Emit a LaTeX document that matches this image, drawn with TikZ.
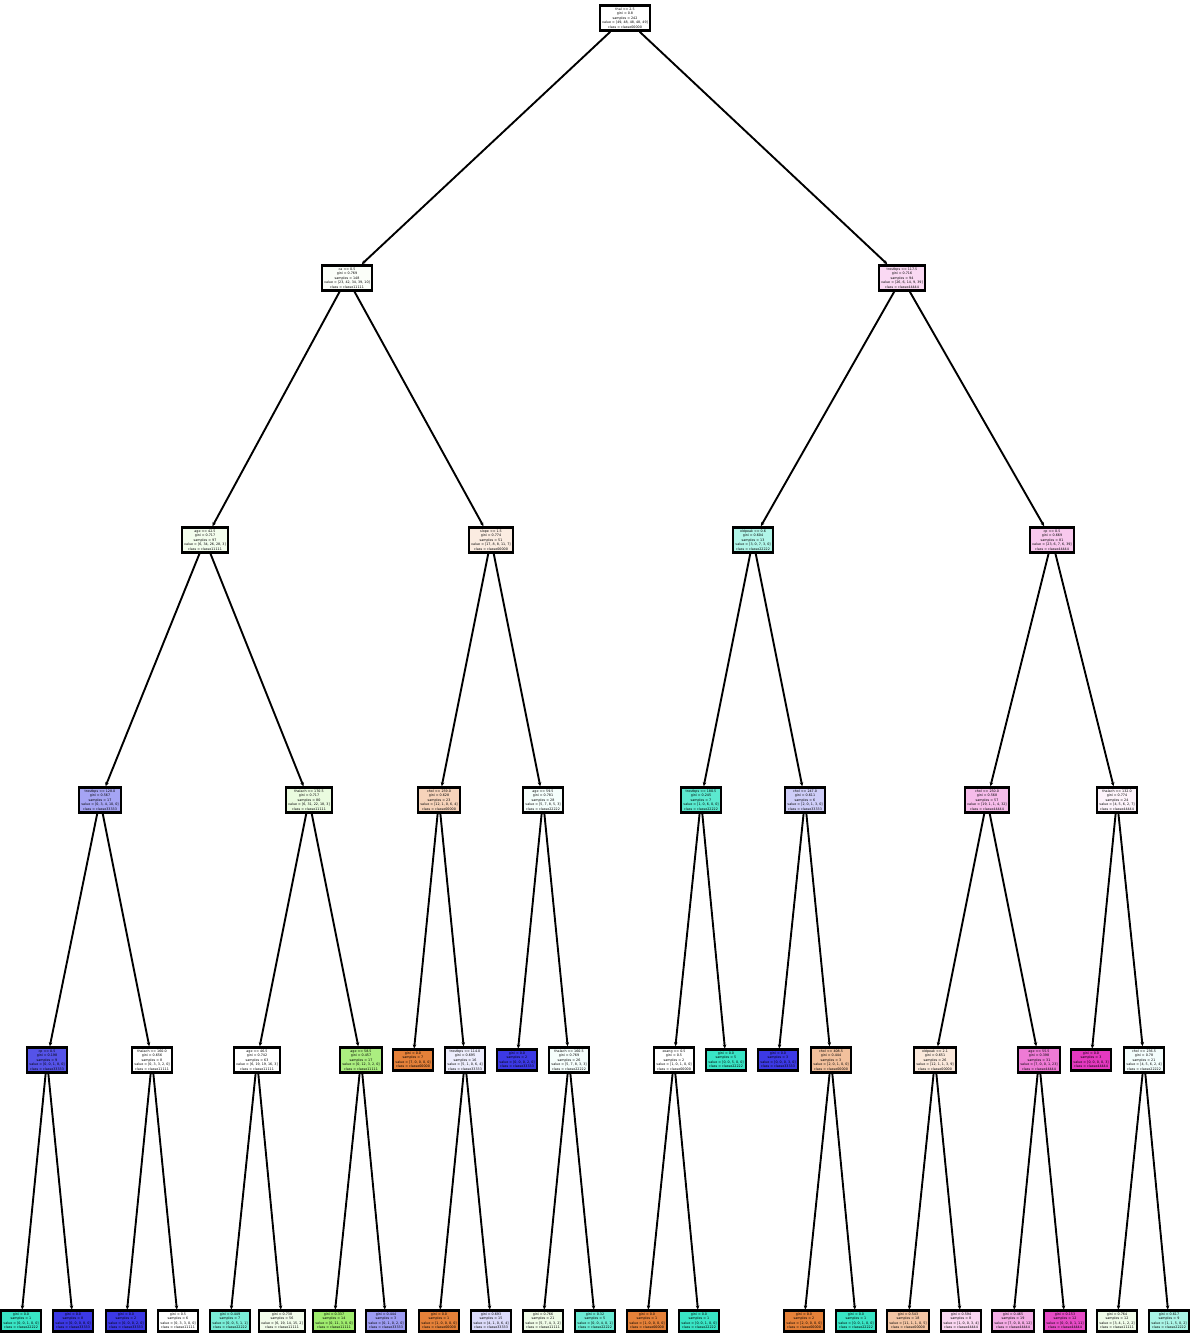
\documentclass[tikz,border=0pt]{standalone}
\usepackage{fontspec}
\setmainfont{DejaVu Sans}
\usetikzlibrary{arrows.meta}
% class colours (orange, green, teal, blue, magenta)
\definecolor{k0}{RGB}{229,129,57}
\definecolor{k1}{RGB}{123,229,57}
\definecolor{k2}{RGB}{57,229,197}
\definecolor{k3}{RGB}{60,57,229}
\definecolor{k4}{RGB}{229,57,192}
\tikzset{
  tnode/.style={draw=black, line width=2.6pt, inner sep=2.2pt, align=center,
                font=\fontsize{3.3}{4.5}\selectfont},
  link/.style={line width=1.9pt, -{Stealth[length=4pt,width=3.6pt]}}
}
\begin{document}
\begin{tikzpicture}[x=1pt,y=-1pt]
\useasboundingbox (0,0) rectangle (1191,1336);
% level 0
\node[tnode, fill=white] (r) at (625,18) {thal <= 2.5\\gini = 0.8\\samples = 242\\value = [49, 48, 48, 48, 49]\\class = classe00000};
% level 1
\node[tnode, fill=k1!3!white] (L) at (347,278) {ca <= 0.5\\gini = 0.769\\samples = 148\\value = [23, 42, 34, 39, 10]\\class = classe11111};
\node[tnode, fill=k4!19!white] (R) at (902,278) {trestbps <= 117.5\\gini = 0.716\\samples = 94\\value = [26, 6, 14, 9, 39]\\class = classe44444};
% level 2
\node[tnode, fill=k1!9!white] (A) at (205,540) {age <= 42.5\\gini = 0.717\\samples = 97\\value = [6, 34, 26, 28, 3]\\class = classe11111};
\node[tnode, fill=k0!15!white] (B) at (491,540) {slope <= 1.5\\gini = 0.774\\samples = 51\\value = [17, 8, 8, 11, 7]\\class = classe00000};
\node[tnode, fill=k2!40!white] (C) at (753,540) {oldpeak <= 0.6\\gini = 0.604\\samples = 13\\value = [3, 0, 7, 3, 0]\\class = classe22222};
\node[tnode, fill=k4!28!white] (D) at (1052,540) {cp <= 0.5\\gini = 0.669\\samples = 81\\value = [23, 6, 7, 6, 39]\\class = classe44444};
% level 3
\node[tnode, fill=k3!46!white] (A1) at (100,800) {trestbps <= 128.0\\gini = 0.567\\samples = 17\\value = [0, 3, 4, 10, 0]\\class = classe33333};
\node[tnode, fill=k1!16!white] (A2) at (309,800) {thalach <= 170.5\\gini = 0.717\\samples = 80\\value = [6, 31, 22, 18, 3]\\class = classe11111};
\node[tnode, fill=k0!35!white] (B1) at (439,800) {chol <= 259.0\\gini = 0.628\\samples = 23\\value = [12, 1, 0, 6, 4]\\class = classe00000};
\node[tnode, fill=k2!5!white] (B2) at (543,800) {age <= 59.5\\gini = 0.781\\samples = 28\\value = [5, 7, 8, 5, 3]\\class = classe22222};
\node[tnode, fill=k2!83!white] (C1) at (701,800) {trestbps <= 180.5\\gini = 0.245\\samples = 7\\value = [1, 0, 6, 0, 0]\\class = classe22222};
\node[tnode, fill=k3!25!white] (C2) at (805,800) {chol <= 247.0\\gini = 0.611\\samples = 6\\value = [2, 0, 1, 3, 0]\\class = classe33333};
\node[tnode, fill=k4!34!white] (D1) at (987,800) {chol <= 250.0\\gini = 0.568\\samples = 57\\value = [19, 1, 1, 4, 32]\\class = classe44444};
\node[tnode, fill=k4!6!white] (D2) at (1117,800) {thalach <= 132.0\\gini = 0.774\\samples = 24\\value = [4, 5, 6, 2, 7]\\class = classe44444};
% level 4
\node[tnode, fill=k3!87!white] (a11) at (47,1060) {cp <= 0.5\\gini = 0.198\\samples = 9\\value = [0, 0, 1, 8, 0]\\class = classe33333};
\node[tnode, fill=white] (a12) at (152,1060) {thalach <= 160.0\\gini = 0.656\\samples = 8\\value = [0, 3, 3, 2, 0]\\class = classe11111};
\node[tnode, fill=white] (a21) at (257,1060) {age <= 46.5\\gini = 0.742\\samples = 63\\value = [6, 19, 19, 16, 3]\\class = classe11111};
\node[tnode, fill=k1!64!white] (a22) at (361,1060) {age <= 58.5\\gini = 0.457\\samples = 17\\value = [0, 12, 3, 2, 0]\\class = classe11111};
\node[tnode, fill=k0] (b11) at (413,1060) {gini = 0.0\\samples = 7\\value = [7, 0, 0, 0, 0]\\class = classe00000};
\node[tnode, fill=k3!9!white] (b12) at (465,1060) {trestbps <= 114.0\\gini = 0.695\\samples = 16\\value = [5, 1, 0, 6, 4]\\class = classe33333};
\node[tnode, fill=k3] (b21) at (517,1060) {gini = 0.0\\samples = 2\\value = [0, 0, 0, 2, 0]\\class = classe33333};
\node[tnode, fill=k2!5!white] (b22) at (569,1060) {thalach <= 160.5\\gini = 0.769\\samples = 26\\value = [5, 7, 8, 3, 3]\\class = classe22222};
\node[tnode, fill=white] (c11) at (674,1060) {exang <= 0.5\\gini = 0.5\\samples = 2\\value = [1, 0, 1, 0, 0]\\class = classe00000};
\node[tnode, fill=k2] (c12) at (726,1060) {gini = 0.0\\samples = 5\\value = [0, 0, 5, 0, 0]\\class = classe22222};
\node[tnode, fill=k3] (c21) at (778,1060) {gini = 0.0\\samples = 3\\value = [0, 0, 0, 3, 0]\\class = classe33333};
\node[tnode, fill=k0!50!white] (c22) at (831,1060) {chol <= 408.5\\gini = 0.444\\samples = 3\\value = [2, 0, 1, 0, 0]\\class = classe00000};
\node[tnode, fill=k0!18!white] (d11) at (935,1060) {oldpeak <= 2.1\\gini = 0.651\\samples = 26\\value = [12, 1, 1, 3, 9]\\class = classe00000};
\node[tnode, fill=k4!67!white] (d12) at (1039,1060) {age <= 55.5\\gini = 0.398\\samples = 31\\value = [7, 0, 0, 1, 23]\\class = classe44444};
\node[tnode, fill=k4] (d21) at (1091,1060) {gini = 0.0\\samples = 3\\value = [0, 0, 0, 0, 3]\\class = classe44444};
\node[tnode, fill=k2!6!white] (d22) at (1144,1060) {chol <= 236.5\\gini = 0.78\\samples = 21\\value = [4, 5, 6, 2, 4]\\class = classe22222};
% level 5 (leaves)
\node[tnode, fill=k2] (a111) at (21,1321) {gini = 0.0\\samples = 1\\value = [0, 0, 1, 0, 0]\\class = classe22222};
\node[tnode, fill=k3] (a112) at (73,1321) {gini = 0.0\\samples = 8\\value = [0, 0, 0, 8, 0]\\class = classe33333};
\node[tnode, fill=k3] (a121) at (126,1321) {gini = 0.0\\samples = 2\\value = [0, 0, 0, 2, 0]\\class = classe33333};
\node[tnode, fill=white] (a122) at (178,1321) {gini = 0.5\\samples = 6\\value = [0, 3, 3, 0, 0]\\class = classe11111};
\node[tnode, fill=k2!67!white] (a211) at (230,1321) {gini = 0.449\\samples = 7\\value = [0, 0, 5, 1, 1]\\class = classe22222};
\node[tnode, fill=k1!10!white] (a212) at (282,1321) {gini = 0.738\\samples = 56\\value = [6, 19, 14, 15, 2]\\class = classe11111};
\node[tnode, fill=k1!73!white] (a221) at (334,1321) {gini = 0.337\\samples = 14\\value = [0, 11, 3, 0, 0]\\class = classe11111};
\node[tnode, fill=k3!50!white] (a222) at (386,1321) {gini = 0.444\\samples = 3\\value = [0, 1, 0, 2, 0]\\class = classe33333};
\node[tnode, fill=k0] (b121) at (439,1321) {gini = 0.0\\samples = 1\\value = [1, 0, 0, 0, 0]\\class = classe00000};
\node[tnode, fill=k3!18!white] (b122) at (491,1321) {gini = 0.693\\samples = 15\\value = [4, 1, 0, 6, 4]\\class = classe33333};
\node[tnode, fill=k1!12!white] (b221) at (543,1321) {gini = 0.766\\samples = 21\\value = [5, 7, 4, 3, 2]\\class = classe11111};
\node[tnode, fill=k2!75!white] (b222) at (595,1321) {gini = 0.32\\samples = 5\\value = [0, 0, 4, 0, 1]\\class = classe22222};
\node[tnode, fill=k0] (c111) at (647,1321) {gini = 0.0\\samples = 1\\value = [1, 0, 0, 0, 0]\\class = classe00000};
\node[tnode, fill=k2] (c112) at (699,1321) {gini = 0.0\\samples = 1\\value = [0, 0, 1, 0, 0]\\class = classe22222};
\node[tnode, fill=k0] (c221) at (804,1321) {gini = 0.0\\samples = 2\\value = [2, 0, 0, 0, 0]\\class = classe00000};
\node[tnode, fill=k2] (c222) at (856,1321) {gini = 0.0\\samples = 1\\value = [0, 0, 1, 0, 0]\\class = classe22222};
\node[tnode, fill=k0!46!white] (d111) at (908,1321) {gini = 0.543\\samples = 18\\value = [11, 1, 1, 0, 5]\\class = classe00000};
\node[tnode, fill=k4!20!white] (d112) at (961,1321) {gini = 0.594\\samples = 8\\value = [1, 0, 0, 3, 4]\\class = classe44444};
\node[tnode, fill=k4!42!white] (d121) at (1013,1321) {gini = 0.465\\samples = 19\\value = [7, 0, 0, 0, 12]\\class = classe44444};
\node[tnode, fill=k4!91!white] (d122) at (1065,1321) {gini = 0.153\\samples = 12\\value = [0, 0, 0, 1, 11]\\class = classe44444};
\node[tnode, fill=k1!11!white] (d221) at (1117,1321) {gini = 0.764\\samples = 12\\value = [3, 4, 1, 2, 2]\\class = classe11111};
\node[tnode, fill=k2!43!white] (d222) at (1169,1321) {gini = 0.617\\samples = 9\\value = [1, 1, 5, 0, 2]\\class = classe22222};
% connectors
\foreach \p/\c in {r/L, r/R, L/A, L/B, R/C, R/D,
  A/A1, A/A2, B/B1, B/B2, C/C1, C/C2, D/D1, D/D2,
  A1/a11, A1/a12, A2/a21, A2/a22, B1/b11, B1/b12, B2/b21, B2/b22,
  C1/c11, C1/c12, C2/c21, C2/c22, D1/d11, D1/d12, D2/d21, D2/d22,
  a11/a111, a11/a112, a12/a121, a12/a122, a21/a211, a21/a212, a22/a221, a22/a222,
  b12/b121, b12/b122, b22/b221, b22/b222, c11/c111, c11/c112, c22/c221, c22/c222,
  d11/d111, d11/d112, d12/d121, d12/d122, d22/d221, d22/d222}
  \draw[link] (\p) -- (\c);
\end{tikzpicture}
\end{document}
